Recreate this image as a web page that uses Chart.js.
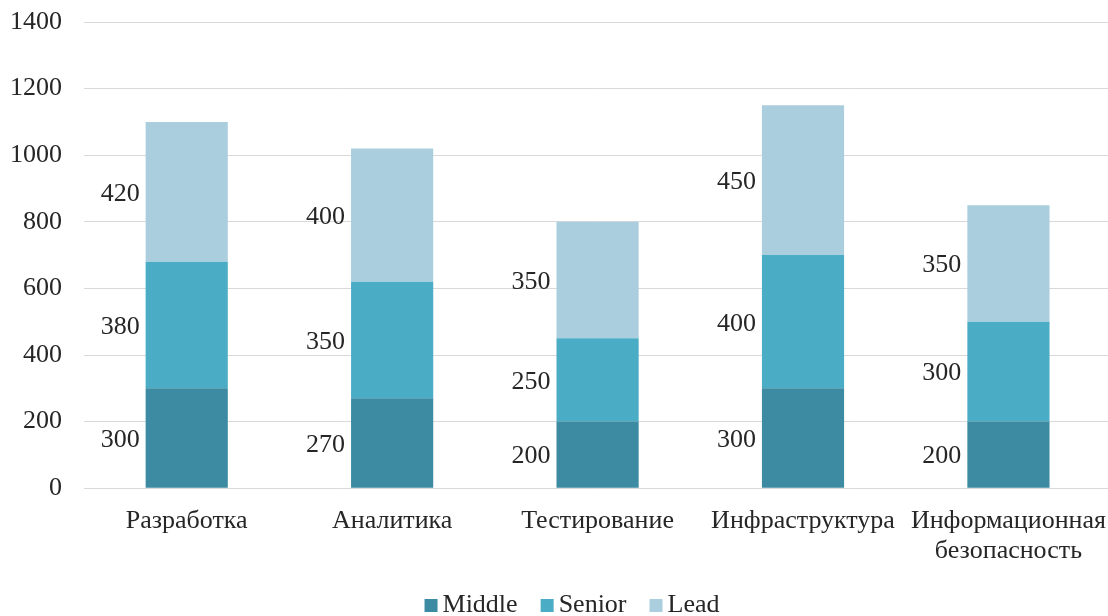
<!DOCTYPE html>
<html>
<head>
<meta charset="utf-8">
<script src="https://cdn.jsdelivr.net/npm/chart.js@4/dist/chart.umd.min.js"></script>
<style>
  html, body { margin: 0; padding: 0; background: #fff; overflow: hidden; }
  #wrap { position: relative; width: 1116px; height: 616px; }
</style>
</head>
<body>
<div id="wrap"><canvas id="chart"></canvas></div>
<script>
// Staff by seniority level in each department
const categories = ['Разработка', 'Аналитика', 'Тестирование', 'Инфраструктура', ['Информационная', 'безопасность']];
const middle = [300, 270, 200, 300, 200];
const senior = [380, 350, 250, 400, 300];
const lead   = [420, 400, 350, 450, 350];
const yTicks = [0, 200, 400, 600, 800, 1000, 1200, 1400];

const FONT = 'Liberation Serif';
const TEXT = '#262626';
const COLORS = { Middle: '#3C8BA2', Senior: '#4BACC6', Lead: '#AACEDD' };

// Value labels placed to the left of each stacked segment
const segmentLabels = {
  id: 'segmentLabels',
  afterDatasetsDraw(chart) {
    const ctx = chart.ctx;
    ctx.save();
    ctx.font = '26px "' + FONT + '"';
    ctx.fillStyle = TEXT;
    ctx.textAlign = 'right';
    ctx.textBaseline = 'middle';
    chart.data.datasets.forEach((ds, di) => {
      chart.getDatasetMeta(di).data.forEach((bar, i) => {
        const left = bar.x - bar.width / 2;
        ctx.fillText(String(ds.data[i]), left - 6, (bar.y + bar.base) / 2 + 2);
      });
    });
    ctx.restore();
  }
};

// Compact legend row under the axis labels
const bottomLegend = {
  id: 'bottomLegend',
  afterDraw(chart) {
    const ctx = chart.ctx;
    ctx.save();
    ctx.font = '26px "' + FONT + '"';
    ctx.textBaseline = 'middle';
    const box = 13, gap = 5, spacing = 23;
    const items = chart.data.datasets.map(ds => ({ text: ds.label, color: ds.backgroundColor, w: ctx.measureText(ds.label).width }));
    const total = items.reduce((s, it) => s + box + gap + it.w, 0) + spacing * (items.length - 1);
    let x = 572 - total / 2;
    const y = 605;
    items.forEach(it => {
      ctx.fillStyle = it.color;
      ctx.fillRect(x, y - 6, box, box);
      ctx.fillStyle = TEXT;
      ctx.textAlign = 'left';
      ctx.fillText(it.text, x + box + gap, y);
      x += box + gap + it.w + spacing;
    });
    ctx.restore();
  }
};

new Chart(document.getElementById('chart'), {
  type: 'bar',
  data: {
    labels: categories,
    datasets: [
      { label: 'Middle', data: middle, backgroundColor: COLORS.Middle },
      { label: 'Senior', data: senior, backgroundColor: COLORS.Senior },
      { label: 'Lead',   data: lead,   backgroundColor: COLORS.Lead }
    ]
  },
  options: {
    responsive: true,
    maintainAspectRatio: false,
    animation: false,
    devicePixelRatio: 1,
    layout: { padding: { top: 22, left: 10, right: 0, bottom: 40 } },
    datasets: { bar: { categoryPercentage: 1, barPercentage: 0.4, borderWidth: 0 } },
    plugins: { legend: { display: false }, tooltip: { enabled: false } },
    scales: {
      x: {
        stacked: true,
        grid: { display: false },
        border: { display: false },
        ticks: {
          color: TEXT,
          padding: 10,
          maxRotation: 0,
          autoSkip: false,
          font: { family: FONT, size: 26, lineHeight: 1.15 }
        }
      },
      y: {
        stacked: true,
        min: 0,
        max: 1400,
        afterBuildTicks(scale) { scale.ticks = yTicks.map(v => ({ value: v })); },
        grid: { color: '#D9D9D9', lineWidth: 1, drawTicks: true, tickLength: 22, tickColor: 'rgba(0,0,0,0)' },
        border: { display: false },
        ticks: {
          color: TEXT,
          padding: 0,
          font: { family: FONT, size: 26 },
          callback: v => String(v)
        }
      }
    }
  },
  plugins: [segmentLabels, bottomLegend]
});
</script>
</body>
</html>
